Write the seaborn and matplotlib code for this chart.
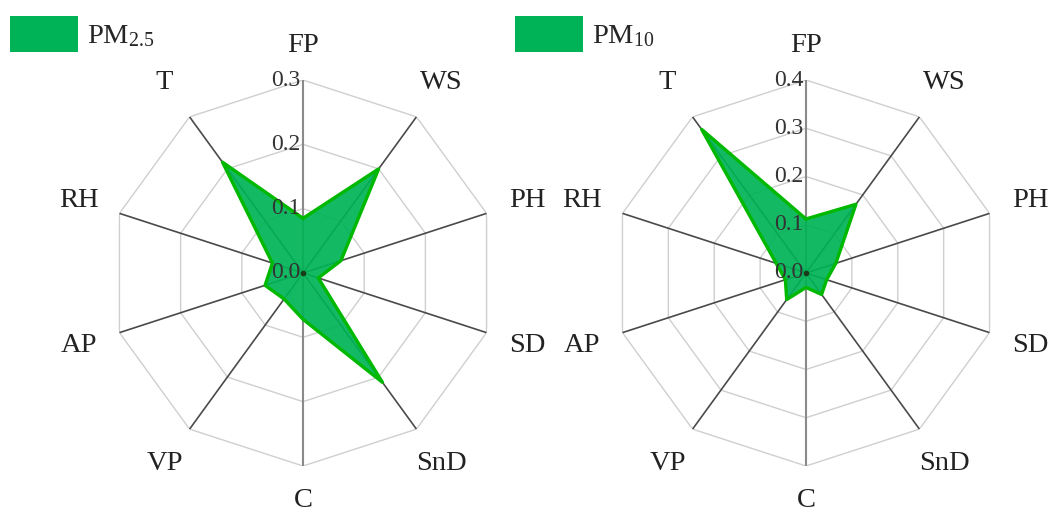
import numpy as np
import pandas as pd
import matplotlib
matplotlib.use("Agg")
import matplotlib.pyplot as plt
from matplotlib.patches import Patch
import seaborn as sns

categories = ["FP", "WS", "PH", "SD", "SnD", "C", "VP", "AP", "RH", "T"]
pm25 = [0.085, 0.200, 0.062, 0.025, 0.210, 0.072, 0.050, 0.062, 0.050, 0.213]
pm10 = [0.112, 0.176, 0.065, 0.045, 0.055, 0.030, 0.068, 0.045, 0.065, 0.368]
pm25_ticks = [0.0, 0.1, 0.2, 0.3]
pm10_ticks = [0.0, 0.1, 0.2, 0.3, 0.4]
series_names = ["PM$_{2.5}$", "PM$_{10}$"]

sns.set_theme(style="white")
plt.rcParams["font.family"] = ["Liberation Serif", "DejaVu Serif"]
plt.rcParams["mathtext.fontset"] = "custom"
plt.rcParams["mathtext.rm"] = "Liberation Serif"
plt.rcParams["mathtext.it"] = "Liberation Serif:italic"

FILL = "#00b356"
EDGE = "#00b800"

fig = plt.figure(figsize=(10.54, 5.16), dpi=100)
W, H = 1054, 516
R = 193

def radar(cx, cy, values, ticks, name, leg_x):
    ax = fig.add_axes([(cx - R) / W, 1 - (cy + R) / H, 2 * R / W, 2 * R / H],
                      projection="polar")
    ax.set_theta_zero_location("N")
    ax.set_theta_direction(-1)
    rmax = ticks[-1]
    ax.set_ylim(0, rmax)
    ax.grid(False)
    ax.spines["polar"].set_visible(False)
    ax.set_xticks([])
    ax.set_yticks([])
    ax.set_facecolor("none")
    n = len(categories)
    ang = np.arange(n) * 2 * np.pi / n
    ang_c = np.append(ang, ang[0])
    # polygon rings
    for t in ticks[1:]:
        ax.plot(ang_c, [t] * (n + 1), color="#cfcfcf", lw=1.0, zorder=1)
    # spokes
    for i, a in enumerate(ang):
        ax.plot([a, a], [0, rmax], color="#8a8a8a" if i in (0, 5) else "#4a4a4a",
                lw=1.5 if i in (0, 5) else 1.2, zorder=2)
    df = pd.DataFrame({"theta": ang_c, "r": values + values[:1]})
    ax.fill(df["theta"], df["r"], color=FILL, alpha=0.92, zorder=3, lw=0)
    sns.lineplot(data=df, x="theta", y="r", sort=False, ax=ax, color=EDGE,
                 lw=2.4, zorder=4, estimator=None)
    ax.set_xlabel("")
    ax.set_ylabel("")
    ax.plot([0], [0], "o", color="#1a3a1a", ms=3, zorder=5)
    for t in ticks:
        ax.annotate(f"{t:.1f}", xy=(0, t), xytext=(-2, 0), textcoords="offset points",
                    ha="right", va="center", fontsize=17, color="#333333", zorder=6)
    for a, lab in zip(ang, categories):
        rr = rmax * (1.18 if lab in ("FP", "C") else 1.22)
        ax.text(a, rr, lab, ha="center", va="center", fontsize=20.5, color="#222222")
    fig.legend(handles=[Patch(facecolor=FILL, edgecolor="none", label=name)],
               loc="upper left", bbox_to_anchor=(leg_x / W, 1 - 16 / H),
               bbox_transform=fig.transFigure, frameon=False, fontsize=20.5,
               handlelength=2.4, handleheight=1.55, handletextpad=0.3,
               borderpad=0, borderaxespad=0)
    return ax

radar(303, 273, pm25, pm25_ticks, series_names[0], 10)
radar(806, 273, pm10, pm10_ticks, series_names[1], 515)

fig.savefig("out.png", dpi=100)
